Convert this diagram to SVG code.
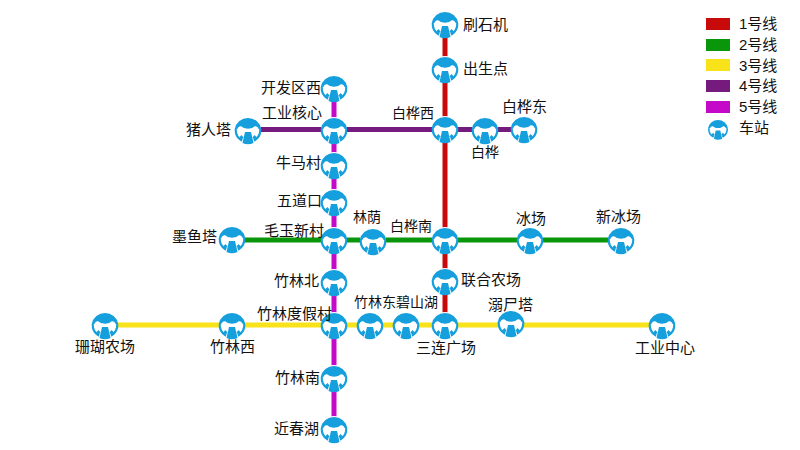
<svg xmlns="http://www.w3.org/2000/svg" width="800" height="450" viewBox="0 0 800 450">
<style>
text{font-family:"Liberation Sans","Noto Sans CJK SC",sans-serif;font-size:15px;fill:#111}
text.s{font-size:14px}
.l{fill:none;stroke-width:5}
.r{stroke:#c80a0a}.g{stroke:#0a960a}.y{stroke:#f8e21a}.p{stroke:#761b7e}.m{stroke:#c40ac8}
.b{fill:#159fdc}
</style>
<defs>
<g id="st">
<circle r="13" fill="#fff"/>
<path class="b" d="M-13.2 -1A13.4 13.4 0 0 1 13.2 -1L10.6 -1C9.5 -4 7 -4.5 5 -2.5C3 -1 -3 -1 -5 -2.5C-7 -4.5 -9.5 -4 -10.6 -1Z"/>
<path class="b" d="M-13.3 -1A13.4 13.4 0 0 0 -6.5 11.7L-5.3 9.6A11 11 0 0 1 -11.2 -1Z M13.3 -1A13.4 13.4 0 0 1 6.5 11.7L5.3 9.6A11 11 0 0 0 11.2 -1Z"/>
<path class="b" d="M-9 7.5L-6.5 5L-4.5 7.5L-6.5 10Z M9 7.5L6.5 5L4.5 7.5L6.5 10Z M-3 2H3L5.5 13A13.4 13.4 0 0 1 -5.5 13Z"/>
</g>
</defs>
<g id="connectors">
<path class="l r" d="M445 24V325"/>
<path class="l g" d="M232 240H621"/>
<path class="l y" d="M105 325H662"/>
<path class="l p" d="M248 129.500H524"/>
<path class="l m" d="M334 88V429"/>
</g>
<g id="s1"><use href="#st" x="445" y="24"/><text x="463" y="30">刷石机</text></g>
<g id="s2"><use href="#st" x="445" y="69"/><text x="463" y="74">出生点</text></g>
<g id="s3"><use href="#st" x="445" y="129"/><text class="s" x="392" y="118">白桦西</text></g>
<g id="s4"><use href="#st" x="485" y="130"/><text class="s" x="471" y="157">白桦</text></g>
<g id="s5"><use href="#st" x="524" y="129"/><text x="502" y="112">白桦东</text></g>
<g id="s6"><use href="#st" x="334" y="88"/><text x="261" y="93">开发区西</text></g>
<g id="s7"><use href="#st" x="334" y="130"/><text x="262" y="118">工业核心</text></g>
<g id="s8"><use href="#st" x="248" y="130"/><text x="186" y="135">猪人塔</text></g>
<g id="s9"><use href="#st" x="334" y="165"/><text x="276" y="168">牛马村</text></g>
<g id="s10"><use href="#st" x="334" y="202"/><text x="277" y="206">五道口</text></g>
<g id="s11"><use href="#st" x="334" y="240"/><text x="264" y="236">毛玉新村</text></g>
<g id="s12"><use href="#st" x="232" y="239"/><text x="172" y="242">墨鱼塔</text></g>
<g id="s13"><use href="#st" x="373" y="241"/><text class="s" x="353" y="222">林荫</text></g>
<g id="s14"><use href="#st" x="445" y="240"/><text class="s" x="390" y="231">白桦南</text></g>
<g id="s15"><use href="#st" x="530" y="240"/><text x="516" y="224">冰场</text></g>
<g id="s16"><use href="#st" x="621" y="240"/><text x="596" y="222">新冰场</text></g>
<g id="s17"><use href="#st" x="445" y="281"/><text x="461" y="285">联合农场</text></g>
<g id="s18"><use href="#st" x="334" y="282"/><text x="274" y="286">竹林北</text></g>
<g id="s19"><use href="#st" x="105" y="325"/><text x="75" y="352">珊瑚农场</text></g>
<g id="s20"><use href="#st" x="232" y="325"/><text x="210" y="352">竹林西</text></g>
<g id="s21"><use href="#st" x="334" y="325"/><text x="257" y="319">竹林度假村</text></g>
<g id="s22"><use href="#st" x="370" y="325"/><text class="s" x="354" y="307">竹林东</text></g>
<g id="s23"><use href="#st" x="406" y="325"/><text class="s" x="396" y="307">碧山湖</text></g>
<g id="s24"><use href="#st" x="445" y="325"/><text x="416" y="353">三连广场</text></g>
<g id="s25"><use href="#st" x="511" y="323"/><text x="488" y="310">溺尸塔</text></g>
<g id="s26"><use href="#st" x="662" y="325"/><text x="635" y="353">工业中心</text></g>
<g id="s27"><use href="#st" x="334" y="378"/><text x="275" y="383">竹林南</text></g>
<g id="s28"><use href="#st" x="334" y="429"/><text x="274" y="434">近春湖</text></g>
<g id="legend">
<rect x="706" y="18" width="24" height="12" fill="#c80a0a"/><text x="739" y="29">1号线</text>
<rect x="706" y="39" width="24" height="12" fill="#0a960a"/><text x="739" y="50">2号线</text>
<rect x="706" y="59" width="24" height="12" fill="#f8e21a"/><text x="739" y="71">3号线</text>
<rect x="706" y="80" width="24" height="12" fill="#761b7e"/><text x="739" y="91">4号线</text>
<rect x="706" y="101" width="24" height="12" fill="#c40ac8"/><text x="739" y="112">5号线</text>
<use href="#st" transform="translate(718 129) scale(.75)"/><text x="739" y="133">车站</text>
</g>
</svg>
